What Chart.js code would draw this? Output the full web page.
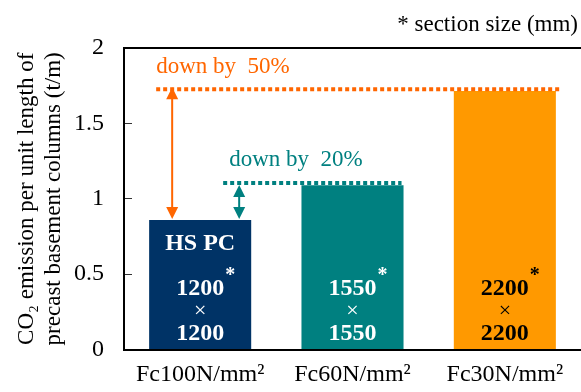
<!DOCTYPE html>
<html>
<head>
<meta charset="utf-8">
<script src="https://cdn.jsdelivr.net/npm/chart.js@4"></script>
<style>
  html, body { margin: 0; padding: 0; background: #fff; }
  #wrap { width: 581px; height: 392px; }
</style>
</head>
<body>
<div id="wrap"><canvas id="co2Chart"></canvas></div>
<script>
var categories = ["Fc100N/mm\u00b2", "Fc60N/mm\u00b2", "Fc30N/mm\u00b2"];
var emissions = [0.86, 1.09, 1.715];
var barColors = ["#003366", "#008080", "#FF9900"];
var labelColors = ["#ffffff", "#ffffff", "#000000"];
var sectionSizes = ["1200", "1550", "2200"];
var yTickValues = [0, 0.5, 1, 1.5, 2];
var level50 = 1.727;   // orange dotted line (Fc30 level)
var level20 = 1.104;   // teal dotted line (Fc60 level)

var serif = "'Liberation Serif', 'Times New Roman', serif";
var orangeLine = "#FF6600";
var tealLine = "#008080";

function dotted(ctx, x1, x2, y, color) {
    ctx.save();
    ctx.strokeStyle = color;
    ctx.lineWidth = 4;
    ctx.setLineDash([4, 3]);
    ctx.beginPath();
    ctx.moveTo(x1, y);
    ctx.lineTo(x2, y);
    ctx.stroke();
    ctx.restore();
}

function arrowHead(ctx, x, tipY, dir) {
    ctx.beginPath();
    ctx.moveTo(x, tipY);
    ctx.lineTo(x - 6, tipY + dir * 12);
    ctx.lineTo(x + 6, tipY + dir * 12);
    ctx.closePath();
    ctx.fill();
}

function doubleArrow(ctx, x, yTop, yBottom, color) {
    ctx.save();
    ctx.strokeStyle = color;
    ctx.fillStyle = color;
    ctx.lineWidth = 2;
    ctx.beginPath();
    ctx.moveTo(x, yTop + 10);
    ctx.lineTo(x, yBottom - 10);
    ctx.stroke();
    arrowHead(ctx, x, yTop, 1);
    arrowHead(ctx, x, yBottom, -1);
    ctx.restore();
}

var overlayPlugin = {
    id: "overlay",
    afterDatasetsDraw: function (chart) {
        var ctx = chart.ctx;
        var area = chart.chartArea;
        var ys = chart.scales.y;
        var bars = chart.getDatasetMeta(0).data;
        var y0 = ys.getPixelForValue(0);

        // top frame line
        ctx.save();
        ctx.strokeStyle = "#000";
        ctx.lineWidth = 2;
        ctx.beginPath();
        ctx.moveTo(area.left - 1, area.top);
        ctx.lineTo(area.right, area.top);
        ctx.stroke();
        ctx.restore();

        var y50 = ys.getPixelForValue(level50);
        var y20 = ys.getPixelForValue(level20);
        var yHspc = ys.getPixelForValue(emissions[0]);

        dotted(ctx, bars[0].x - 44, bars[2].x + bars[2].width / 2 + 5, y50, orangeLine);
        dotted(ctx, bars[0].x + 23, bars[1].x + bars[1].width / 2 - 2, y20, tealLine);

        doubleArrow(ctx, bars[0].x - 28, y50 - 2, yHspc - 1, orangeLine);
        doubleArrow(ctx, bars[0].x + 39, y20 + 2, yHspc - 1, tealLine);

        ctx.save();
        ctx.textBaseline = "middle";
        ctx.font = "23px " + serif;
        ctx.textAlign = "left";
        ctx.fillStyle = orangeLine;
        ctx.fillText("down by  50%", bars[0].x - 44, y50 - 22);
        ctx.fillStyle = tealLine;
        ctx.fillText("down by  20%", bars[0].x + 29, y20 - 23);

        ctx.fillStyle = "#000";
        ctx.textAlign = "right";
        ctx.fillText("* section size (mm)", 578, 25);

        // labels inside bars
        ctx.textAlign = "center";
        for (var i = 0; i < bars.length; i++) {
            var bx = bars[i].x;
            ctx.fillStyle = labelColors[i];
            ctx.font = "bold 24px " + serif;
            if (i === 0) ctx.fillText("HS PC", bx, y0 - 106);
            ctx.fillText(sectionSizes[i], bx, y0 - 61);
            var w = ctx.measureText(sectionSizes[i]).width;
            ctx.fillText(sectionSizes[i], bx, y0 - 16);
            ctx.font = "22px " + serif;
            ctx.fillText("\u00d7", bx, y0 - 38);
            ctx.font = "bold 20px " + serif;
            ctx.textAlign = "left";
            ctx.textBaseline = "alphabetic";
            ctx.fillText("*", bx + w / 2 + 1, y0 - 69);
            ctx.textAlign = "center";
            ctx.textBaseline = "middle";
        }
        ctx.restore();
    }
};

new Chart("co2Chart", {
    type: "bar",
    data: {
        labels: categories,
        datasets: [{
            data: emissions,
            backgroundColor: barColors,
            borderWidth: 0,
            barPercentage: 0.67,
            categoryPercentage: 1.0
        }]
    },
    options: {
        responsive: true,
        maintainAspectRatio: false,
        animation: false,
        layout: {
            padding: { top: 48, right: 0, bottom: 0, left: 0 }
        },
        plugins: {
            legend: { display: false },
            tooltip: { enabled: false }
        },
        scales: {
            x: {
                grid: { display: false },
                border: { display: true, color: "#000", width: 2 },
                ticks: {
                    color: "#000",
                    font: { family: serif, size: 24 },
                    padding: 3,
                    maxRotation: 0
                },
                afterFit: function (scale) { scale.height = 36; }
            },
            y: {
                min: 0,
                max: 2,
                afterBuildTicks: function (scale) {
                    scale.ticks = yTickValues.map(function (v) { return { value: v }; });
                },
                grid: {
                    drawOnChartArea: false,
                    tickLength: -8,
                    color: "#333",
                    lineWidth: 1
                },
                border: { display: true, color: "#000", width: 2 },
                ticks: {
                    color: "#000",
                    font: { family: serif, size: 24 },
                    padding: 28,
                    callback: function (value) { return String(value); }
                },
                title: {
                    display: true,
                    text: ["CO\u2082 emission per unit length of", "precast basement columns (t/m)"],
                    color: "#000",
                    font: { family: serif, size: 23, lineHeight: 1.15 },
                    padding: { top: 14, bottom: 0 }
                },
                afterFit: function (scale) { scale.width = 124; }
            }
        }
    },
    plugins: [overlayPlugin]
});
</script>
</body>
</html>
